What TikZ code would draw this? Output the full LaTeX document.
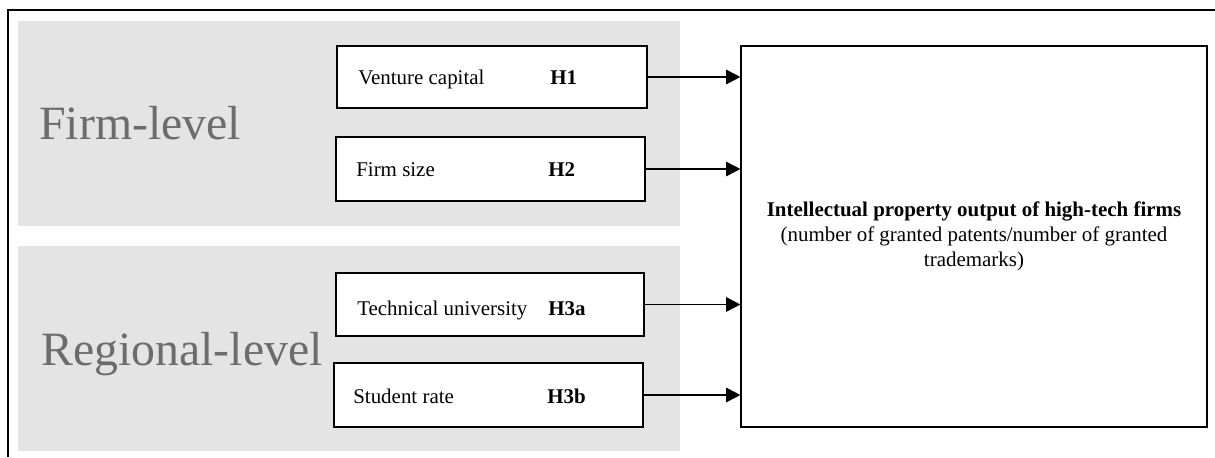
\documentclass[tikz,border=0pt]{standalone}
\usepackage{fontspec}
\setmainfont{Liberation Serif}
\usetikzlibrary{arrows.meta}
\definecolor{panelgray}{HTML}{E4E4E4}
\definecolor{levelgray}{HTML}{6E6B6B}
\begin{document}
\begin{tikzpicture}[
    panel/.style={fill=panelgray, draw=none},
    factor/.style={draw, line width=0.8pt, fill=white, inner sep=0pt},
    factortext/.style={anchor=base west, inner sep=0pt, font=\fontsize{14.9}{17.8}\selectfont},
    leveltext/.style={anchor=base west, inner sep=0pt, text=levelgray, font=\fontsize{34}{40}\selectfont},
    effect/.style={line width=1.2pt, -{Triangle[length=0.36cm, width=0.36cm]}}
]
        % Fix the page size
        \useasboundingbox (0,0) rectangle (30.375,11.425);

        % Outer frame (only top and left edge show)
        \draw[line width=1.2pt] (0.2,0) -- (0.2,11.175) -- (30.5,11.175);

        % Gray panels for the two levels
        \fill[panel] (0.45,5.775) rectangle (17.0,10.9);
        \fill[panel] (0.45,0.15) rectangle (17.0,5.275);
        \node[leveltext] (firm) at (0.975,7.925) {Firm-level};
        \node[leveltext] (region) at (1.025,2.3) {Regional-level};

        % Explanatory factors
        \node[factor, minimum width=7.75cm, minimum height=1.55cm] (vc) at (12.3,9.5) {};
        \node[factor, minimum width=7.725cm, minimum height=1.6cm] (size) at (12.2625,7.2) {};
        \node[factor, minimum width=7.7cm, minimum height=1.575cm] (tech) at (12.25,3.8125) {};
        \node[factor, minimum width=7.725cm, minimum height=1.6cm] (stud) at (12.2125,1.55) {};

        \node[factortext] (vclabel) at (8.95,9.3) {Venture capital};
        \node[factortext] (vchyp) at (13.75,9.3) {\textbf{H1}};
        \node[factortext] (sizelabel) at (8.9,7.0) {Firm size};
        \node[factortext] (sizehyp) at (13.7,7.0) {\textbf{H2}};
        \node[factortext] (techlabel) at (8.925,3.55) {Technical university};
        \node[factortext] (techhyp) at (13.7,3.55) {\textbf{H3a}};
        \node[factortext] (studlabel) at (8.825,1.35) {Student rate};
        \node[factortext] (studhyp) at (13.675,1.35) {\textbf{H3b}};

        % Outcome
        \node[factor, minimum width=11.65cm, minimum height=9.525cm, align=center,
              font=\fontsize{14.9}{17.8}\selectfont] (out) at (24.35,5.5125)
            {\textbf{Intellectual property output of high-tech firms}\\
             (number of granted patents/number of granted\\ trademarks)};

        % Hypothesised effects
        \foreach \f in {vc,size,tech,stud}
            \draw[effect] (\f.east) -- (\f.east -| out.west);

    \end{tikzpicture}
\end{document}
